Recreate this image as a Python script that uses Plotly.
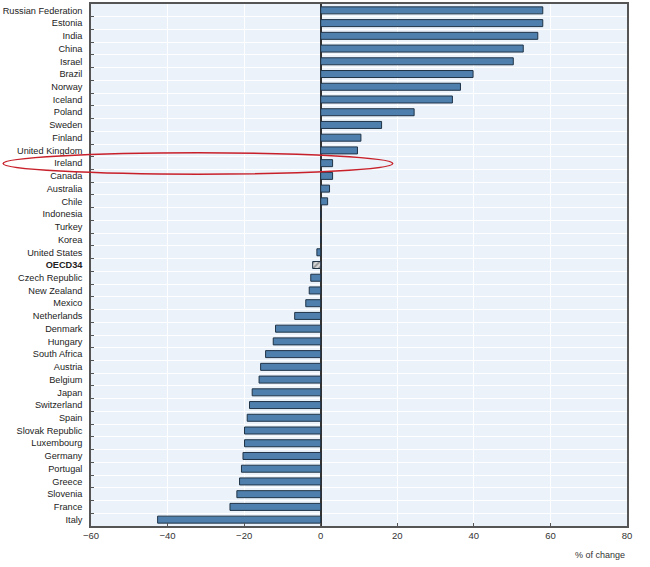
import plotly.graph_objects as go

countries = ["Russian Federation", "Estonia", "India", "China", "Israel", "Brazil", "Norway",
             "Iceland", "Poland", "Sweden", "Finland", "United Kingdom", "Ireland", "Canada",
             "Australia", "Chile", "Indonesia", "Turkey", "Korea", "United States", "OECD34",
             "Czech Republic", "New Zealand", "Mexico", "Netherlands", "Denmark", "Hungary",
             "South Africa", "Austria", "Belgium", "Japan", "Switzerland", "Spain",
             "Slovak Republic", "Luxembourg", "Germany", "Portugal", "Greece", "Slovenia",
             "France", "Italy"]
values = [58.0, 58.0, 56.7, 52.9, 50.3, 39.8, 36.5, 34.4, 24.4, 15.9, 10.5, 9.6, 3.1, 3.1,
          2.3, 1.8, 0, 0, 0, -1.0, -2.1, -2.6, -3.0, -3.9, -6.8, -11.8, -12.4, -14.4, -15.7,
          -16.1, -17.9, -18.6, -19.2, -19.9, -19.9, -20.3, -20.7, -21.2, -21.9, -23.7, -42.6]
x_ticks = [-60, -40, -20, 0, 20, 40, 60, 80]
highlight = "Ireland"
oecd = "OECD34"

tick_text = [f"<b>{c}</b>" if c == oecd else c for c in countries]
colors = ["#d9d9d9" if c == oecd else "#4f80ad" for c in countries]
patterns = ["/" if c == oecd else "" for c in countries]

fig = go.Figure()
fig.add_trace(go.Bar(
    x=values, y=countries, orientation="h", width=0.55,
    marker=dict(color=colors, line=dict(color="#1f3347", width=1),
                pattern=dict(shape=patterns, fgcolor="#333333", size=4, solidity=0.4)),
    showlegend=False, hoverinfo="x+y",
))

# red hand-drawn style ellipse around the highlighted row (paper coords, not clipped)
fig.add_shape(type="circle", xref="paper", yref="paper",
              x0=-0.164, x1=0.563, y0=0.674, y1=0.715,
              line=dict(color="#c8202a", width=1.5), layer="above")

font = "Liberation Sans Narrow, Arial Narrow, Liberation Sans, Arial"
fig.update_layout(
    width=650, height=567,
    margin=dict(l=91, r=23, t=4, b=41),
    paper_bgcolor="white", plot_bgcolor="#ebf2f9",
    font=dict(family=font, size=9.5, color="#222222"),
    bargap=0.5,
)
fig.update_xaxes(range=[-60, 80], tickvals=x_ticks, ticks="inside", ticklen=3,
                 tickcolor="#555555", showgrid=True, gridcolor="white", gridwidth=1,
                 zeroline=True, zerolinecolor="#333333", zerolinewidth=1.5,
                 showline=True, linecolor="#555555", linewidth=1.5, mirror=True,
                 automargin=False,
                 tickfont=dict(size=9.5, color="#333333"))
fig.update_yaxes(categoryorder="array", categoryarray=countries, autorange="reversed",
                 tickvals=countries, ticktext=tick_text,
                 tickson="boundaries", ticks="inside", ticklen=3, tickcolor="#555555",
                 ticklabelstandoff=5, automargin=False,
                 showgrid=True, gridcolor="white", gridwidth=1,
                 showline=True, linecolor="#555555", linewidth=1.5, mirror=True,
                 tickfont=dict(size=9.2, color="#222222"))
fig.add_annotation(text="% of change", xref="paper", yref="paper", x=1.0, y=0.0,
                   xanchor="right", yanchor="top", yshift=-22, showarrow=False,
                   font=dict(size=9, color="#333333", family=font))
fig.write_html("out.html", config={"displayModeBar": False},
               post_script="document.body.style.margin='0';document.body.style.padding='0';")
